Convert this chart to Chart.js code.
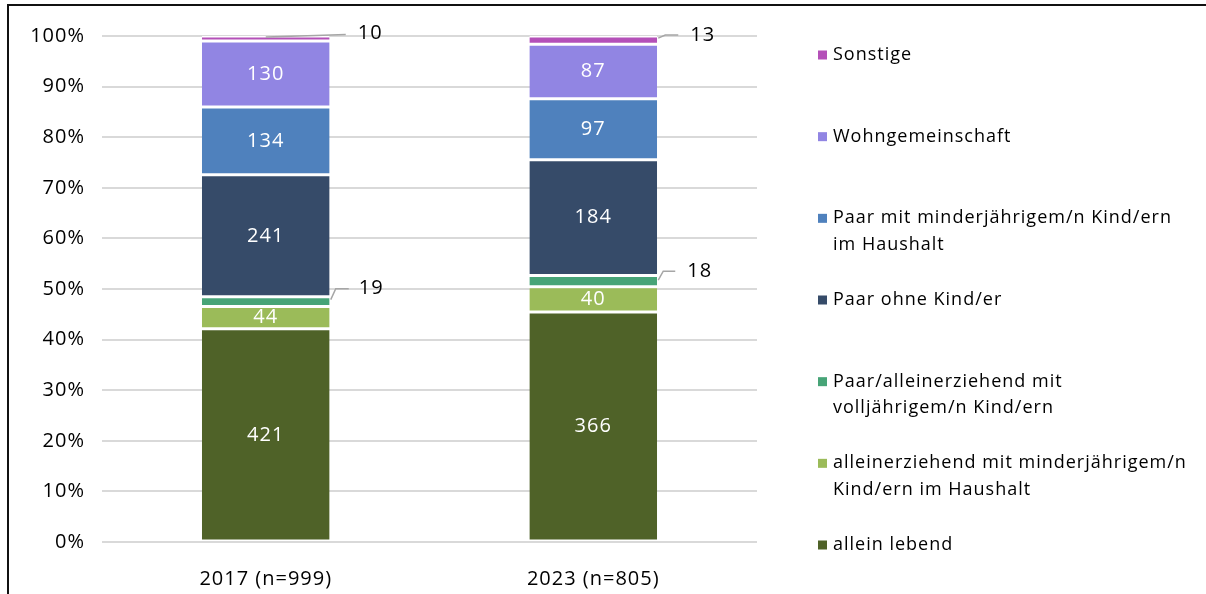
<!DOCTYPE html>
<html>
<head>
<meta charset="utf-8">
<script src="https://cdn.jsdelivr.net/npm/chart.js@4"></script>
<style>
    body { margin: 0; background: #fff; }
    #wrap { position: relative; width: 1206px; height: 594px; overflow: hidden; }
    #rahmen { position: absolute; left: 7px; top: 4px; width: 1400px; height: 800px;
              border-left: 2px solid #111; border-top: 2px solid #111; }
    #chart { position: absolute; left: 0; top: 0; }
</style>
</head>
<body>
<div id="wrap">
    <div id="rahmen"></div>
    <canvas id="chart" width="1206" height="594"></canvas>
</div>
<script>
// Haushaltsform, absolute Anzahl je Erhebung
const kategorien = ['2017 (n=999)', '2023 (n=805)'];
const alleinLebend = [421, 366];
const alleinerziehendMinder = [44, 40];
const paarVolljaehrig = [19, 18];
const paarOhneKind = [241, 184];
const paarMitMinder = [134, 97];
const wohngemeinschaft = [130, 87];
const sonstige = [10, 13];

const serienNamen = [
    'allein lebend',
    'alleinerziehend mit minderjährigem/n Kind/ern im Haushalt',
    'Paar/alleinerziehend mit volljährigem/n Kind/ern',
    'Paar ohne Kind/er',
    'Paar mit minderjährigem/n Kind/ern im Haushalt',
    'Wohngemeinschaft',
    'Sonstige'
];
// Legendentext mit Zeilenumbruch
const legendenZeilen = [
    ['allein lebend'],
    ['alleinerziehend mit minderjährigem/n', 'Kind/ern im Haushalt'],
    ['Paar/alleinerziehend mit', 'volljährigem/n Kind/ern'],
    ['Paar ohne Kind/er'],
    ['Paar mit minderjährigem/n Kind/ern', 'im Haushalt'],
    ['Wohngemeinschaft'],
    ['Sonstige']
];
const farben = ['#4F6228', '#9BBB59', '#47A477', '#364B69', '#4F81BD', '#9185E3', '#B450B8'];
const serien = [alleinLebend, alleinerziehendMinder, paarVolljaehrig, paarOhneKind, paarMitMinder, wohngemeinschaft, sonstige];

const summen = kategorien.map((k, i) => serien.reduce((s, arr) => s + arr[i], 0));

// kleine Segmente bekommen Beschriftung außen mit Führungslinie
// p = Linienpunkte, t = Textposition, relativ zu Balkenmitte / Segmentmitte
const aussenLabels = {
    6: [
        {p: [[0, -1.5], [50, -3], [80, -4]], t: [92, -5]},
        {p: [[65, -2], [72, -5], [85, -5]], t: [97, -5]}
    ],
    2: [
        {p: [[65, -2], [70, -13], [83, -13]], t: [93, -13.5]},
        {p: [[65, -1], [70, -10], [82, -10]], t: [94, -10]}
    ]
};

Chart.defaults.font.family = "'Open Sans', sans-serif";
Chart.defaults.font.size = 20;
Chart.defaults.color = '#000';

// etwas Sperrung, damit die Schrift breiter läuft
const sperrung = {
    id: 'sperrung',
    beforeLayout(chart) { chart.ctx.letterSpacing = '1px'; },
    beforeDraw(chart) { chart.ctx.letterSpacing = '1px'; }
};

const labelPlugin = {
    id: 'werte',
    afterDatasetsDraw(chart) {
        const ctx = chart.ctx;
        ctx.save();
        ctx.font = "20px 'Open Sans', sans-serif";
        ctx.textBaseline = 'middle';
        chart.data.datasets.forEach((ds, di) => {
            const meta = chart.getDatasetMeta(di);
            meta.data.forEach((bar, i) => {
                const midY = (bar.y + bar.base) / 2;
                const wert = ds.anzahl[i];
                if (aussenLabels[di]) {
                    const a = aussenLabels[di][i];
                    ctx.strokeStyle = '#a6a6a6';
                    ctx.lineWidth = 1.5;
                    ctx.beginPath();
                    a.p.forEach((pt, k) => {
                        const x = bar.x + pt[0], y = midY + pt[1];
                        if (k === 0) ctx.moveTo(x, y); else ctx.lineTo(x, y);
                    });
                    ctx.stroke();
                    ctx.fillStyle = '#000';
                    ctx.textAlign = 'left';
                    ctx.fillText(String(wert), bar.x + a.t[0], midY + a.t[1]);
                } else {
                    ctx.fillStyle = '#fff';
                    ctx.textAlign = 'center';
                    ctx.fillText(String(wert), bar.x, midY);
                }
            });
        });
        ctx.restore();
    }
};

const legendePlugin = {
    id: 'legende',
    afterDraw(chart) {
        const ctx = chart.ctx;
        const area = chart.chartArea;
        const x0 = 818;
        const oben = area.top + 19;
        const unten = area.bottom + 3;
        const n = legendenZeilen.length;
        const schritt = (unten - oben) / (n - 1);
        ctx.save();
        ctx.font = "18px 'Open Sans', sans-serif";
        ctx.textBaseline = 'middle';
        ctx.textAlign = 'left';
        for (let k = 0; k < n; k++) {
            const di = n - 1 - k;
            const y = oben + k * schritt;
            ctx.fillStyle = farben[di];
            ctx.fillRect(x0, y - 4.5, 9, 9);
            ctx.fillStyle = '#000';
            legendenZeilen[di].forEach((z, j) => {
                ctx.fillText(z, x0 + 15, y + j * 26.5);
            });
        }
        ctx.restore();
    }
};

new Chart(document.getElementById('chart'), {
    type: 'bar',
    data: {
        labels: kategorien,
        datasets: serien.map((arr, di) => ({
            label: serienNamen[di],
            anzahl: arr,
            data: arr.map((v, i) => v / summen[i] * 100),
            backgroundColor: farben[di],
            borderColor: '#fff',
            borderWidth: {top: 1.5, bottom: 1.5, left: 0, right: 0},
            borderSkipped: false,
            categoryPercentage: 1,
            barPercentage: 0.39
        }))
    },
    options: {
        responsive: false,
        animation: false,
        devicePixelRatio: 1,
        layout: {padding: {top: 36, right: 449, left: 0, bottom: 0}},
        plugins: {
            legend: {display: false},
            tooltip: {enabled: false}
        },
        scales: {
            x: {
                stacked: true,
                grid: {display: false},
                border: {display: false},
                ticks: {padding: 17, font: {size: 20}},
                afterFit(scale) { scale.height = 52; }
            },
            y: {
                stacked: true,
                min: 0,
                max: 100,
                ticks: {
                    stepSize: 10,
                    padding: 17,
                    callback: v => v + '%'
                },
                grid: {color: '#d9d9d9', lineWidth: 2, drawTicks: false},
                border: {display: false},
                afterFit(scale) { scale.width = 102; }
            }
        }
    },
    plugins: [sperrung, labelPlugin, legendePlugin]
});
</script>
</body>
</html>
